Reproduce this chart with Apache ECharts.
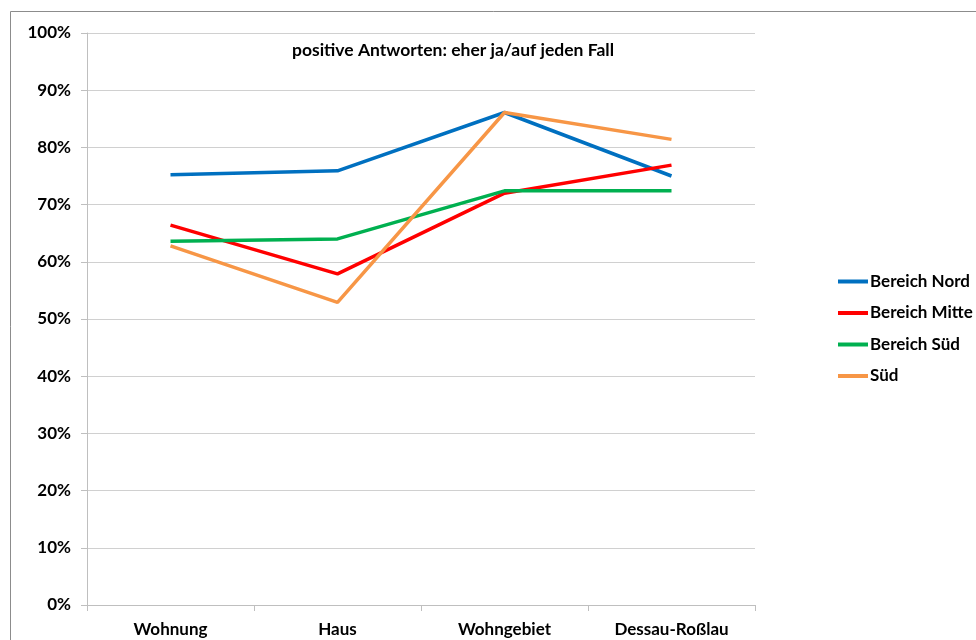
<!DOCTYPE html>
<html>
<head>
<meta charset="utf-8">
<script src="https://cdn.jsdelivr.net/npm/echarts@6/dist/echarts.min.js"></script>
<style>
  html, body { margin: 0; padding: 0; background: #fff; }
  #chart { width: 976px; height: 640px; }
</style>
</head>
<body>
<div id="chart"></div>
<script>
// Daten (in %)
const categories = ['Wohnung', 'Haus', 'Wohngebiet', 'Dessau-Roßlau'];
const bereichNord = [75.2, 75.9, 86.1, 75.0];
const bereichMitte = [66.4, 57.9, 72.0, 76.9];
const bereichSued = [63.6, 64.0, 72.4, 72.4];
const sued = [62.8, 52.9, 86.1, 81.4];
const titleText = 'positive Antworten: eher ja/auf jeden Fall';

const font = 'Lato, "Open Sans", sans-serif';

function lineSeries(name, data, color) {
  return {
    name: name,
    type: 'line',
    data: data,
    symbol: 'none',
    color: color,
    lineStyle: { width: 3.5, color: color },
    emphasis: { disabled: true }
  };
}

const chart = echarts.init(document.getElementById('chart'));
chart.setOption({
  animation: false,
  backgroundColor: '#fff',
  textStyle: { fontFamily: font },
  title: {
    text: titleText,
    left: 448,
    top: 36,
    textAlign: 'center',
    textStyle: { fontFamily: font, fontSize: 17.5, fontWeight: 'bold', color: '#000' }
  },
  graphic: [{
    type: 'rect',
    shape: { x: 10.5, y: 11.5, width: 1000, height: 700 },
    style: { fill: null, stroke: '#8c8c8c', lineWidth: 1 },
    silent: true
  }],
  grid: { left: 87, right: 221, top: 33, bottom: 35, containLabel: false },
  legend: {
    orient: 'vertical',
    left: 838,
    top: 273,
    padding: 0,
    icon: 'rect',
    itemWidth: 30,
    itemHeight: 4,
    itemGap: 14.5,
    textStyle: { fontFamily: font, fontSize: 17, fontWeight: 'bold', color: '#000', padding: [0, 0, 0, -3], lineHeight: 17 },
    data: ['Bereich Nord', 'Bereich Mitte', 'Bereich Süd', 'Süd']
  },
  xAxis: {
    type: 'category',
    data: categories,
    boundaryGap: true,
    axisLine: { lineStyle: { color: '#bfbfbf', width: 1 } },
    axisTick: { show: true, length: 6, lineStyle: { color: '#bfbfbf' } },
    axisLabel: { margin: 16, fontFamily: font, fontSize: 17, fontWeight: 'bold', color: '#000' },
    splitLine: { show: false }
  },
  yAxis: {
    type: 'value',
    min: 0,
    max: 100,
    interval: 10,
    axisLine: { show: true, lineStyle: { color: '#bfbfbf', width: 1 } },
    axisTick: { show: true, length: 6, lineStyle: { color: '#bfbfbf' } },
    axisLabel: { margin: 16, fontFamily: font, fontSize: 17, fontWeight: 'bold', color: '#000', formatter: '{value}%' },
    splitLine: { show: true, lineStyle: { color: '#d0d0d0', width: 1 } }
  },
  series: [
    lineSeries('Bereich Nord', bereichNord, '#0070c0'),
    lineSeries('Bereich Mitte', bereichMitte, '#ff0000'),
    lineSeries('Bereich Süd', bereichSued, '#00b050'),
    lineSeries('Süd', sued, '#f79646')
  ]
});
</script>
</body>
</html>
